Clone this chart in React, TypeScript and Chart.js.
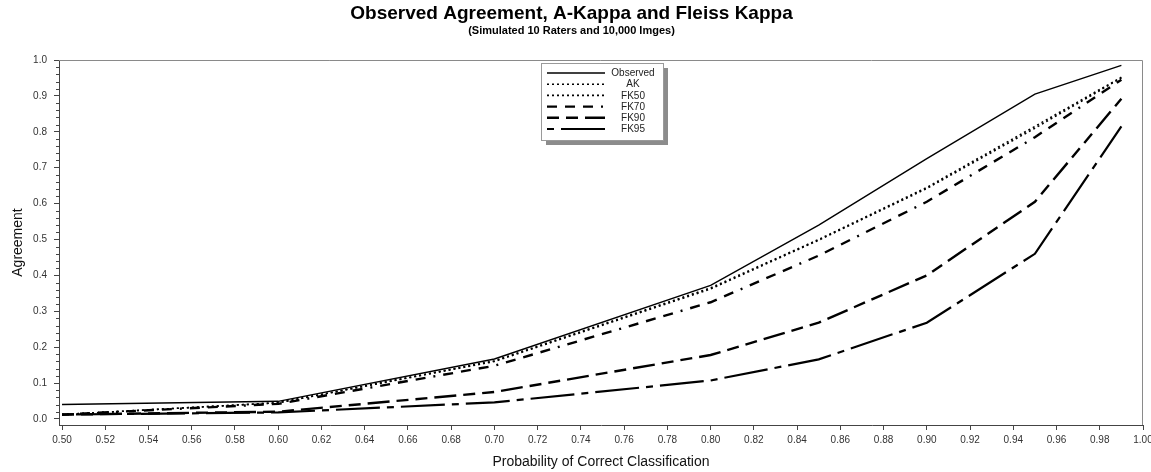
import React, { useEffect, useRef } from "react";
import { Chart, registerables } from "chart.js";

Chart.register(...registerables);

const TITLE = "Observed Agreement, A-Kappa and Fleiss Kappa";
const SUBTITLE = "(Simulated 10 Raters and 10,000 Imges)";
const X_TITLE = "Probability of Correct Classification";
const Y_TITLE = "Agreement";

const PROB = [0.5, 0.6, 0.7, 0.8, 0.85, 0.9, 0.95, 0.99];
const OBSERVED = [0.04, 0.049, 0.167, 0.372, 0.54, 0.725, 0.905, 0.985];
const AK = [0.012, 0.045, 0.162, 0.365, 0.5, 0.645, 0.815, 0.952];
const FK50 = [0.012, 0.045, 0.16, 0.362, 0.498, 0.642, 0.81, 0.95];
const FK70 = [0.012, 0.042, 0.148, 0.325, 0.455, 0.605, 0.785, 0.945];
const FK90 = [0.012, 0.02, 0.075, 0.178, 0.268, 0.4, 0.605, 0.892];
const FK95 = [0.012, 0.018, 0.046, 0.107, 0.166, 0.268, 0.46, 0.815];

const X_TICKS = [0.5, 0.52, 0.54, 0.56, 0.58, 0.6, 0.62, 0.64, 0.66, 0.68, 0.7, 0.72, 0.74, 0.76, 0.78, 0.8, 0.82, 0.84, 0.86, 0.88, 0.9, 0.92, 0.94, 0.96, 0.98, 1.0];
const Y_TICKS = [0.0, 0.1, 0.2, 0.3, 0.4, 0.5, 0.6, 0.7, 0.8, 0.9, 1.0];

const FONT = "'Liberation Sans', Arial, Helvetica, sans-serif";

type SeriesDef = { label: string; data: number[]; dash: number[]; width: number };

const SERIES: SeriesDef[] = [
  { label: "Observed", data: OBSERVED, dash: [], width: 1.4 },
  { label: "AK", data: AK, dash: [2, 3], width: 1.6 },
  { label: "FK50", data: FK50, dash: [2, 3], width: 1.6 },
  { label: "FK70", data: FK70, dash: [10, 8, 10, 8, 10, 8, 2, 8], width: 2.4 },
  { label: "FK90", data: FK90, dash: [12, 7, 12, 7, 22, 7], width: 2.4 },
  { label: "FK95", data: FK95, dash: [7, 7, 44, 7], width: 2.2 },
];

const framePlugin = {
  id: "frameAndMinor",
  afterDraw(chart: any) {
    const { ctx, chartArea } = chart;
    const y = chart.scales.y;
    ctx.save();
    ctx.strokeStyle = "#8a8a8a";
    ctx.lineWidth = 1;
    ctx.beginPath();
    ctx.moveTo(chartArea.left, chartArea.top + 0.5);
    ctx.lineTo(chartArea.right - 0.5, chartArea.top + 0.5);
    ctx.lineTo(chartArea.right - 0.5, chartArea.bottom);
    ctx.stroke();
    ctx.strokeStyle = "#444";
    ctx.beginPath();
    for (let i = 0; i <= 50; i++) {
      if (i % 5 === 0) continue;
      const py = Math.round(y.getPixelForValue(i * 0.02)) + 0.5;
      ctx.moveTo(chartArea.left - 3, py);
      ctx.lineTo(chartArea.left, py);
    }
    ctx.stroke();
    ctx.restore();
  },
};

const legendPlugin = {
  id: "boxLegend",
  afterDatasetsDraw(chart: any) {
    const { ctx } = chart;
    const bx = 541, by = 63, bw = 122, bh = 77;
    ctx.save();
    ctx.fillStyle = "#8c8c8c";
    ctx.fillRect(bx + 5, by + 5, bw, bh);
    ctx.fillStyle = "#ffffff";
    ctx.fillRect(bx, by, bw, bh);
    ctx.strokeStyle = "#9a9a9a";
    ctx.lineWidth = 1;
    ctx.strokeRect(bx + 0.5, by + 0.5, bw, bh);
    ctx.font = `10px ${FONT}`;
    ctx.textAlign = "center";
    ctx.textBaseline = "middle";
    SERIES.forEach((s, i) => {
      const ly = by + 10 + i * 11.2;
      ctx.strokeStyle = "#000";
      ctx.lineWidth = s.width;
      ctx.setLineDash(s.dash);
      ctx.beginPath();
      ctx.moveTo(547, ly);
      ctx.lineTo(605, ly);
      ctx.stroke();
      ctx.setLineDash([]);
      ctx.fillStyle = "#222";
      ctx.fillText(s.label, 633, ly + 0.5);
    });
    ctx.restore();
  },
};

export default function App() {
  const ref = useRef<HTMLCanvasElement | null>(null);

  useEffect(() => {
    if (!ref.current) return;
    const chart = new Chart(ref.current, {
      type: "line",
      data: {
        datasets: SERIES.map((s) => ({
          label: s.label,
          data: PROB.map((p, i) => ({ x: p, y: s.data[i] })),
          borderColor: "#000",
          borderWidth: s.width,
          borderDash: s.dash,
          pointRadius: 0,
          fill: false,
          tension: 0,
        })),
      },
      plugins: [framePlugin, legendPlugin],
      options: {
        animation: false,
        responsive: false,
        layout: { padding: { left: 0, right: 8, top: 0, bottom: 0 } },
        plugins: {
          legend: { display: false },
          tooltip: { enabled: false },
          title: {
            display: true,
            text: TITLE,
            color: "#000",
            font: { family: FONT, size: 19, weight: "bold", lineHeight: 1.1 },
            padding: { top: 3, bottom: 0 },
          },
          subtitle: {
            display: true,
            text: SUBTITLE,
            color: "#000",
            font: { family: FONT, size: 11, weight: "bold", lineHeight: 1.2 },
            padding: { top: 0, bottom: 22.9 },
          },
        },
        scales: {
          x: {
            type: "linear",
            min: 0.4986,
            max: 1.0,
            afterFit(scale: any) {
              scale.height = 47;
              scale.paddingLeft = 0;
              scale.paddingRight = 0;
            },
            afterBuildTicks(scale: any) {
              scale.ticks = X_TICKS.map((v) => ({ value: v }));
            },
            ticks: {
              autoSkip: false,
              maxRotation: 0,
              padding: 4,
              color: "#333",
              font: { family: FONT, size: 10 },
              callback: (v: any) => Number(v).toFixed(2),
            },
            grid: { drawOnChartArea: false, drawTicks: true, tickLength: 5, color: "#444" },
            border: { display: true, color: "#444" },
            title: {
              display: true,
              text: X_TITLE,
              color: "#111",
              font: { family: FONT, size: 14 },
              padding: { top: 0, bottom: 1 },
            },
          },
          y: {
            type: "linear",
            min: -0.017,
            max: 1.0,
            afterFit(scale: any) {
              scale.width = 59;
              scale.paddingTop = 0;
              scale.paddingBottom = 0;
            },
            afterBuildTicks(scale: any) {
              scale.ticks = Y_TICKS.map((v) => ({ value: v }));
            },
            ticks: {
              autoSkip: false,
              padding: 7,
              color: "#333",
              font: { family: FONT, size: 10 },
              callback: (v: any) => Number(v).toFixed(1),
            },
            grid: { drawOnChartArea: false, drawTicks: true, tickLength: 5, color: "#444" },
            border: { display: true, color: "#444" },
            title: {
              display: true,
              text: Y_TITLE,
              color: "#111",
              font: { family: FONT, size: 14 },
              padding: { top: 10, bottom: 0 },
            },
          },
        },
      } as any,
    });
    return () => chart.destroy();
  }, []);

  return (
    <div style={{ position: "absolute", left: 0, top: 0, width: 1151, height: 472, background: "#fff" }}>
      <canvas ref={ref} width={1151} height={472} />
    </div>
  );
}
